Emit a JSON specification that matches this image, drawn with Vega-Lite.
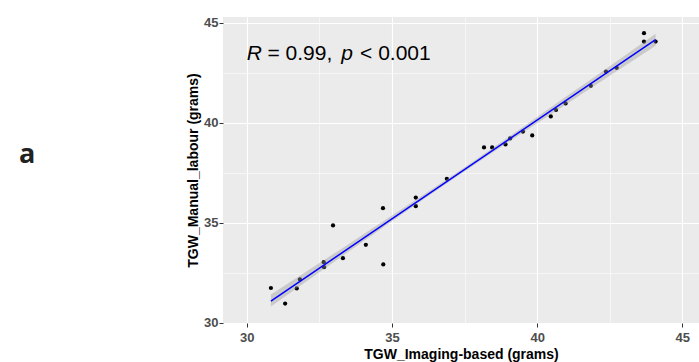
{
  "$schema": "https://vega.github.io/schema/vega-lite/v6.json",
  "width": 476,
  "height": 306,
  "autosize": "none",
  "padding": {"left": 223, "top": 17, "right": 0, "bottom": 39},
  "background": "white",
  "config": {
    "view": {"fill": "#EBEBEB", "stroke": null},
    "font": "Liberation Sans",
    "axis": {
      "domain": false,
      "gridColor": "white",
      "tickColor": "#333333",
      "tickSize": 4,
      "labelFont": "Liberation Sans",
      "labelFontWeight": "bold",
      "labelColor": "#4D4D4D",
      "labelFontSize": 13,
      "titleFont": "Liberation Sans",
      "titleFontWeight": "bold",
      "titleFontSize": 14,
      "titleColor": "black"
    }
  },
  "datasets": {
    "pts": [
      {"x": 30.83, "y": 31.73},
      {"x": 31.32, "y": 30.95},
      {"x": 31.72, "y": 31.71},
      {"x": 31.83, "y": 32.16},
      {"x": 32.65, "y": 33.02},
      {"x": 32.66, "y": 32.77},
      {"x": 32.97, "y": 34.86},
      {"x": 33.31, "y": 33.22},
      {"x": 34.10, "y": 33.89},
      {"x": 34.70, "y": 32.91},
      {"x": 34.69, "y": 35.72},
      {"x": 35.82, "y": 36.25},
      {"x": 35.82, "y": 35.82},
      {"x": 36.89, "y": 37.19},
      {"x": 38.17, "y": 38.76},
      {"x": 38.45, "y": 38.76},
      {"x": 38.91, "y": 38.91},
      {"x": 39.07, "y": 39.21},
      {"x": 39.51, "y": 39.55},
      {"x": 39.83, "y": 39.36},
      {"x": 40.47, "y": 40.31},
      {"x": 40.65, "y": 40.63},
      {"x": 40.98, "y": 40.96},
      {"x": 41.85, "y": 41.84},
      {"x": 42.37, "y": 42.55},
      {"x": 42.74, "y": 42.74},
      {"x": 43.68, "y": 44.47},
      {"x": 43.68, "y": 44.05},
      {"x": 44.08, "y": 44.05}
    ],
    "band": [
      {"x": 30.83, "lo": 30.81, "hi": 31.41},
      {"x": 32.0, "lo": 32.01, "hi": 32.51},
      {"x": 33.5, "lo": 33.54, "hi": 33.92},
      {"x": 35.0, "lo": 35.07, "hi": 35.35},
      {"x": 37.3, "lo": 37.37, "hi": 37.57},
      {"x": 39.5, "lo": 39.49, "hi": 39.77},
      {"x": 41.0, "lo": 40.92, "hi": 41.30},
      {"x": 42.5, "lo": 42.34, "hi": 42.82},
      {"x": 44.08, "lo": 43.84, "hi": 44.44}
    ],
    "italic": [
      {"t": "R", "x": 30.0, "y": 43.14},
      {"t": "p", "x": 33.25, "y": 43.14}
    ],
    "normal": [
      {"t": "= 0.99,", "x": 30.71, "y": 43.14},
      {"t": "< 0.001", "x": 33.90, "y": 43.14}
    ],
    "panel": [
      {"t": "a", "x": 22.15, "y": 38.0}
    ]
  },
  "layer": [
    {
      "data": {"name": "pts"},
      "mark": {"type": "point", "filled": true, "color": "black", "size": 18, "opacity": 1},
      "encoding": {
        "x": {
          "field": "x", "type": "quantitative",
          "scale": {"domain": [29.18, 45.575], "nice": false, "zero": false},
          "axis": {
            "title": "TGW_Imaging-based (grams)",
            "values": [30, 32.5, 35, 37.5, 40, 42.5, 45],
            "labelExpr": "datum.value % 5 === 0 ? datum.label : ''",
            "gridWidth": {"condition": {"test": "datum.value % 5 === 0", "value": 1.1}, "value": 0.55},
            "tickOpacity": {"condition": {"test": "datum.value % 5 === 0", "value": 1}, "value": 0},
            "labelPadding": 4,
            "titlePadding": 3
          }
        },
        "y": {
          "field": "y", "type": "quantitative",
          "scale": {"domain": [29.98, 45.28], "nice": false, "zero": false},
          "axis": {
            "title": "TGW_Manual_labour (grams)",
            "values": [30, 32.5, 35, 37.5, 40, 42.5, 45],
            "labelExpr": "datum.value % 5 === 0 ? datum.label : ''",
            "gridWidth": {"condition": {"test": "datum.value % 5 === 0", "value": 1.1}, "value": 0.55},
            "tickOpacity": {"condition": {"test": "datum.value % 5 === 0", "value": 1}, "value": 0},
            "labelPadding": 1,
            "titlePadding": 3
          }
        }
      }
    },
    {
      "data": {"name": "band"},
      "mark": {"type": "area", "color": "#999999", "opacity": 0.4, "interpolate": "monotone"},
      "encoding": {
        "x": {"field": "x", "type": "quantitative"},
        "y": {"field": "lo", "type": "quantitative"},
        "y2": {"field": "hi"}
      }
    },
    {
      "data": {"name": "pts"},
      "transform": [{"regression": "y", "on": "x", "extent": [30.83, 44.08]}],
      "mark": {"type": "line", "color": "#0000FF", "strokeWidth": 1.5},
      "encoding": {
        "x": {"field": "x", "type": "quantitative"},
        "y": {"field": "y", "type": "quantitative"}
      }
    },
    {
      "data": {"name": "italic"},
      "mark": {"type": "text", "font": "Liberation Sans", "fontSize": 21, "fontStyle": "italic", "align": "left", "baseline": "alphabetic", "color": "black"},
      "encoding": {
        "x": {"field": "x", "type": "quantitative"},
        "y": {"field": "y", "type": "quantitative"},
        "text": {"field": "t"}
      }
    },
    {
      "data": {"name": "normal"},
      "mark": {"type": "text", "font": "Liberation Sans", "fontSize": 21, "align": "left", "baseline": "alphabetic", "color": "black"},
      "encoding": {
        "x": {"field": "x", "type": "quantitative"},
        "y": {"field": "y", "type": "quantitative"},
        "text": {"field": "t"}
      }
    },
    {
      "data": {"name": "panel"},
      "mark": {"type": "text", "font": "Open Sans", "fontSize": 27, "fontWeight": "bold", "align": "left", "baseline": "alphabetic", "color": "#222222", "clip": false},
      "encoding": {
        "x": {"field": "x", "type": "quantitative"},
        "y": {"field": "y", "type": "quantitative"},
        "text": {"field": "t"}
      }
    }
  ]
}
